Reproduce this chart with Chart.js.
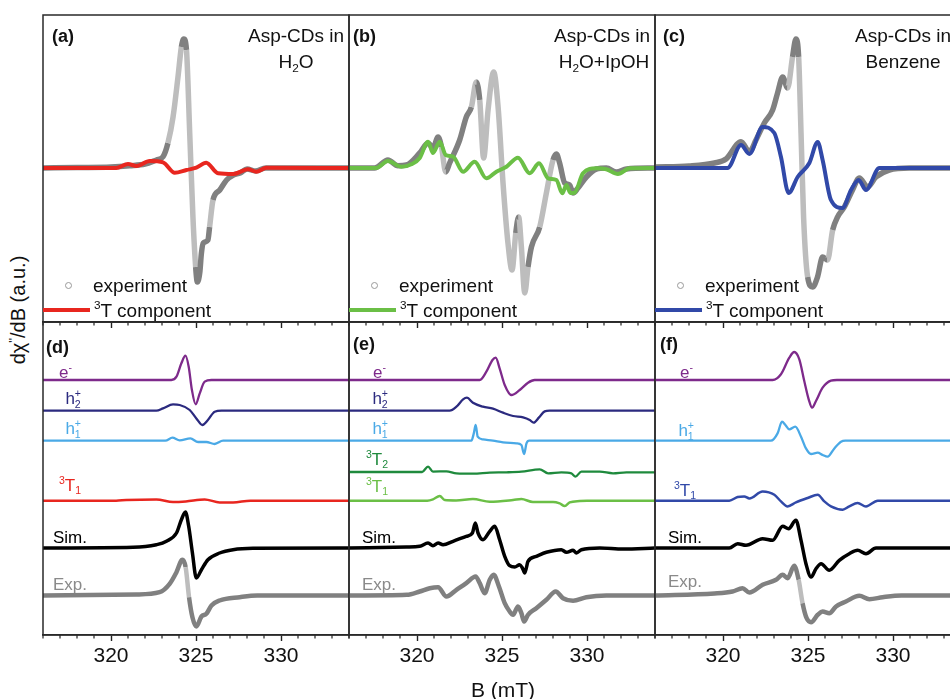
<!DOCTYPE html>
<html><head><meta charset="utf-8">
<script src="https://cdn.jsdelivr.net/npm/chart.js@4.4.1/dist/chart.umd.min.js"></script>
<style>
html,body{margin:0;padding:0;background:#fff;overflow:hidden;}
#fig{position:relative;width:950px;height:699px;overflow:hidden;background:#fff;font-family:"Liberation Sans",Arial,Helvetica,sans-serif;color:#111;}
canvas{position:absolute;}
.t{position:absolute;white-space:nowrap;line-height:1;z-index:5;}
.t sup{font-size:0.62em;vertical-align:0.6em;line-height:0;}
.t sub{font-size:0.62em;vertical-align:-0.35em;line-height:0;}
.ss{display:inline-block;vertical-align:-0.42em;font-size:0.62em;line-height:1.05;text-align:left;}
.ss span{display:block;}
.sw{position:absolute;z-index:5;}
</style></head><body><div id="fig"></div>
<script>
// ---------- data (B in mT, signal in a.u.) ----------
const xTicks = [320, 325, 330];

// (a) Asp-CDs in H2O
const aExp = [[316,0],[318,0.5],[320,1],[321.1,2.3],[322,4],[322.67,8],[323.06,11.3],[323.35,25],[323.65,51],[323.94,91],[324.14,121],[324.28,129],[324.44,118],[324.63,35],[324.82,-49],[324.98,-99],[325.08,-114],[325.22,-105],[325.32,-85],[325.43,-75],[325.7,-72],[325.8,-59],[326.0,-32],[326.4,-22],[326.8,-12],[327.2,-7],[327.6,-5],[328.0,-1],[328.5,-3],[329.1,0],[330,0],[334,0]];
const aT = [[316,0],[320.3,0],[321.0,4],[321.5,2],[322.28,7],[323.06,5.7],[323.75,-4.7],[324.44,-2],[325.02,0.3],[325.6,5.3],[326.3,-5.3],[327.2,-6],[328.06,-1.3],[328.55,-3.7],[329.14,0.3],[334,0]];

// (b) Asp-CDs in H2O+IpOH
const bExp = [[316,0],[317.5,0],[318.29,8],[318.88,2.3],[319.38,3],[320.16,15],[320.65,25],[320.94,20],[321.24,31],[321.44,21],[321.69,-4],[321.92,5],[322.51,28],[322.9,51],[323.2,61],[323.49,86],[323.69,68],[323.92,10],[324.18,58],[324.51,96],[324.77,61],[325.06,-15],[325.35,-75],[325.59,-102],[325.81,-65],[325.98,-49],[326.14,-79],[326.34,-125],[326.53,-99],[326.73,-79],[327.22,-59],[327.61,-25],[328.0,8],[328.2,14],[328.39,5],[328.69,-15],[328.98,-17],[329.18,-25],[329.47,-20],[329.96,-9],[330.55,-1],[331.14,0],[331.73,-4],[332.32,-1],[334,0]];
const bT = [[316,0],[317.6,0],[318.29,7],[319.08,1.3],[319.67,3.7],[320.16,10],[320.65,26.3],[320.94,15],[321.34,26.3],[321.69,13],[322.12,11.3],[322.71,-3.7],[323.39,6.3],[324.08,-10.3],[324.67,-3.7],[325.26,1.3],[325.94,10.3],[326.63,-5.3],[327.18,4.7],[327.71,-10.3],[328.2,-12],[328.55,-25.3],[328.79,-17],[329.02,-25],[329.27,-24.7],[329.76,-5.3],[330.55,-0.3],[331.14,-1.3],[331.82,-6],[332.51,-0.3],[334,0]];

// (c) Asp-CDs in Benzene
const cExp = [[316,1],[318,2],[319.5,5],[320.18,9],[321.06,26.3],[321.55,16.3],[321.94,28],[322.43,45],[322.92,58],[323.21,75],[323.51,91],[323.8,80],[324.09,111],[324.29,129],[324.45,111],[324.59,35],[324.74,-49],[324.98,-109],[325.27,-119],[325.56,-109],[325.86,-89],[326.15,-92],[326.45,-62],[326.74,-49],[327.14,-39],[327.62,-22],[328.02,-10],[328.51,-19],[329.0,-9],[329.78,-2],[330.96,0],[334,0]];
const cT = [[316,0],[320.27,0],[321.06,23],[321.55,14],[322.33,41],[323.02,35],[323.41,11],[323.86,-25],[324.39,-9],[325.08,5],[325.57,26],[325.86,8],[326.35,-32],[327.03,-40],[327.53,-22],[327.98,-12],[328.41,-22],[329.2,0],[334,0]];

// (d) simulation components, H2O
const dE = [[316,0],[323.55,0],[323.85,3.3],[324.14,16.7],[324.38,24.3],[324.57,13.3],[324.76,-10],[324.98,-24.3],[325.22,-13.3],[325.51,-1.7],[325.91,0],[334,0]];
const dH2 = [[316,0],[322.67,0],[323.06,2.3],[323.65,6.3],[324.04,5.7],[324.63,0.7],[325.02,-7.7],[325.38,-14.3],[325.7,-9.3],[326.1,-1],[326.5,0],[334,0]];
const dH1 = [[316,0],[323.2,0],[323.61,3],[324.04,0.3],[324.67,2.3],[325.12,-1.3],[325.61,-1.3],[326.1,-3.3],[326.59,0],[334,0]];
const dT1 = [[316,0],[320.3,0],[320.9,0.7],[322.67,1.3],[323.65,-1.3],[324.4,-0.7],[325.51,1.3],[326.39,-1.7],[327.18,-1.7],[328.2,0],[334,0]];
const dSim = [[316,0],[321.3,0.7],[322.67,3.3],[323.26,6.7],[323.85,15],[324.14,28.3],[324.38,36],[324.57,21.7],[324.79,-5],[325.02,-30],[325.32,-21.7],[325.7,-11.7],[326.39,-5],[327.18,-1.7],[328.35,-0.3],[334,0]];
const dExp = [[316,0],[321.5,1],[322.86,3.3],[323.45,11.7],[323.85,23.3],[324.2,35.7],[324.39,28.3],[324.59,-1.7],[324.79,-21.7],[325.02,-31],[325.32,-21],[325.61,-18.3],[325.91,-10],[326.39,-5],[327.57,-1.7],[328.6,0],[334,0]];

// (e) simulation components, H2O+IpOH
const eE = [[316,0],[323.69,0],[324.08,8.3],[324.44,20],[324.63,22.3],[324.86,11.7],[325.16,-5],[325.55,-15],[326.04,-10],[326.53,-2.7],[326.92,0],[334,0]];
const eH2 = [[316,0],[321.92,0],[322.32,4],[322.71,11.3],[322.94,13],[323.29,8],[323.88,4],[324.47,2],[325.06,-2],[325.65,-5.3],[326.24,-6.7],[326.63,-9.3],[326.86,-12],[327.18,-6.7],[327.51,-0.7],[327.8,0],[334,0]];
const eH1 = [[316,0],[323.2,0],[323.34,7.3],[323.45,15.7],[323.57,4],[323.88,1.3],[324.47,0],[325.06,-1.7],[325.85,-2.7],[326.14,-4.3],[326.3,-13.3],[326.44,-2.7],[326.6,0],[334,0]];
const eT2 = [[316,0.3],[320.3,0.3],[320.65,5.7],[320.94,0.7],[321.73,1],[322.32,-1],[323.29,-1.3],[324.28,-0.3],[325.26,0],[326.14,0.7],[327.22,3],[327.71,-1],[328.49,0],[329.08,-1],[329.32,-4.3],[329.67,0.7],[330.75,0.7],[331.53,-1],[332.32,0],[334,0]];
const eT1 = [[316,0],[320.6,0],[320.94,1.3],[321.34,4.7],[321.63,0.7],[322.3,0.3],[323.29,1.7],[324.28,-1],[325.65,0.7],[326.14,1.7],[326.82,-1.3],[328.0,-1.3],[328.39,-2.7],[328.69,-5.3],[328.98,-1.7],[329.57,-0.3],[330,0],[334,0]];
const eSim = [[316,0],[319.38,1],[320.16,1.7],[320.65,5],[320.94,2.3],[321.24,5],[321.53,3.3],[322.12,6.7],[322.9,11.7],[323.26,15],[323.43,25],[323.59,15],[323.88,8.3],[324.28,16.7],[324.57,21.7],[324.86,8.3],[325.16,-8.3],[325.45,-17.7],[325.75,-19],[326.04,-16.7],[326.2,-20],[326.34,-25],[326.53,-13.3],[327.02,-8.3],[327.61,-4.3],[328.49,-1.7],[328.79,-4.3],[329.18,-2.3],[329.38,-5],[329.67,-1.7],[330.75,0],[332.12,-1],[334,0]];
const eExp = [[316,0],[319.4,0.7],[320.16,4],[320.75,7.3],[321.24,8.3],[321.73,-1],[322.32,5.7],[322.9,12.3],[323.45,19],[323.69,12.3],[323.98,2.3],[324.28,15.7],[324.51,20.7],[324.82,9],[325.16,-7.7],[325.45,-16],[325.65,-19.3],[325.94,-11],[326.14,-17.7],[326.3,-26],[326.53,-19.3],[327.02,-12.7],[327.61,-4.3],[328.16,4],[328.59,-2.7],[329.18,-5.3],[329.96,-1.7],[331.14,0],[334,0]];

// (f) simulation components, Benzene
const fE = [[316,0],[322.92,0],[323.41,5.7],[323.9,22.3],[324.19,28],[324.49,20.7],[324.78,-1],[325.04,-19.3],[325.24,-27.7],[325.47,-21],[325.86,-7.7],[326.35,-0.7],[326.7,0],[334,0]];
const fH1 = [[316,0],[322.82,0],[323.21,7.3],[323.47,19],[323.67,15.7],[323.9,11.3],[324.25,14],[324.59,4],[324.88,-7.7],[325.18,-13.3],[325.57,-12],[325.86,-14.3],[326.15,-16],[326.55,-7.7],[326.94,-1],[327.2,0],[334,0]];
const fT1 = [[316,0],[320.37,0],[320.86,3.7],[321.25,4.3],[321.55,2.3],[322.33,9.3],[323.02,6],[323.41,-0.7],[323.8,-5.7],[324.29,-1.7],[324.98,2.7],[325.57,6],[325.96,-0.7],[326.35,-5.7],[327.04,-9],[327.43,-5.7],[327.92,-2.3],[328.41,-5.7],[329.1,0],[334,0]];
const fSim = [[316,0],[320.37,0],[320.86,4.3],[321.35,2.7],[322.33,9.3],[322.92,7.7],[323.51,21.7],[323.86,19.3],[324.29,27.7],[324.59,7.7],[324.88,-15.7],[325.18,-29],[325.47,-20.7],[325.77,-15.7],[326.25,-22.3],[326.84,-12.3],[327.43,-5.7],[327.92,-2.3],[328.41,-5.7],[329.0,0],[334,0]];
const fExp = [[316,0],[319.5,2],[320.56,4],[321.15,7.3],[321.55,3],[322.33,10.7],[323.12,15.7],[323.51,20.7],[323.8,17.3],[324.19,29.7],[324.45,15.7],[324.68,-7.7],[324.92,-22.7],[325.18,-26.7],[325.57,-19.3],[325.86,-16],[326.25,-17.7],[326.65,-11],[327.23,-6],[328.02,-0.3],[328.61,-3.7],[329.39,-1.7],[330.5,0],[334,0]];

// ---------- layout / style ----------
const fig = document.getElementById('fig');
const PAD = 3, PLOT_W = 306;
const panelLeft = [43, 349, 655];
const topY = 15, midY = 322, botY = 635;
const OFF = {E:255, H2:224.3, H1:194.3, T2:162.7, T1:134.3, Sim:87, Exp:39.5};
const COL = {E:'#7e2a8b', H2:'#2b2a7f', H1:'#4aa9e6', red:'#e8261f', T2:'#1f8a3d', lg:'#6bbf46', blue:'#3149a8', sim:'#000000'};

const steep = c => { const dx = Math.abs(c.p1.x - c.p0.x) || 0.01, dy = Math.abs(c.p1.y - c.p0.y); return dy > 22 && dy / dx > 4; };
function xy(arr, off){ return arr.map(p => ({x: p[0], y: p[1] + (off || 0)})); }
function line(arr, color, width, off){
  return {data: xy(arr, off), borderColor: color, borderWidth: width, pointRadius: 0, fill: false, cubicInterpolationMode: 'monotone'};
}
function expLine(arr, off, w){
  const d = line(arr, '#808080', w, off);
  d.segment = {borderColor: c => steep(c) ? '#bdbdbd' : '#808080'};
  return d;
}

const minorTicks = {id:'minorTicks', afterDraw(chart){
  const s = chart.scales.x, ctx = chart.ctx; ctx.save(); ctx.strokeStyle = '#222'; ctx.lineWidth = 1.2;
  for (let v = Math.ceil(s.min); v <= s.max; v++) { if (v % 5 === 0) continue; const x = s.getPixelForValue(v);
    ctx.beginPath(); ctx.moveTo(x, s.top); ctx.lineTo(x, s.top + 3.5); ctx.stroke(); }
  ctx.restore(); }};
const frame = {id:'frame', afterDraw(chart){
  const a = chart.chartArea, ctx = chart.ctx; ctx.save(); ctx.strokeStyle = '#2a2a2a'; ctx.lineWidth = 1.5;
  ctx.strokeRect(a.left, a.top, a.right - a.left, a.bottom - a.top); ctx.restore(); }};

function makePanel(col, row, datasets, yMin, yMax){
  const isBottom = row === 1;
  const plotTop = isBottom ? midY : topY;
  const plotH = isBottom ? botY - midY : midY - topY;
  const axisH = isBottom ? 40 : 8;
  const c = document.createElement('canvas');
  const w = PLOT_W + 2 * PAD, h = PAD + plotH + axisH;
  c.width = w; c.height = h;
  c.style.left = (panelLeft[col] - PAD) + 'px'; c.style.top = (plotTop - PAD) + 'px';
  c.style.width = w + 'px'; c.style.height = h + 'px';
  fig.appendChild(c);
  new Chart(c, {type: 'line', data: {datasets},
    options: {responsive: false, animation: false, events: [], devicePixelRatio: 1,
      layout: {padding: {left: PAD, right: PAD, top: PAD, bottom: 0}},
      plugins: {legend: {display: false}, tooltip: {enabled: false}},
      scales: {
        x: {type: 'linear', min: 316, max: 334,
          afterBuildTicks: s => { s.ticks = xTicks.map(v => ({value: v})); },
          afterFit: s => { s.height = axisH; },
          grid: {drawOnChartArea: false, drawTicks: true, tickLength: 6, tickWidth: 1.4, tickColor: '#222'},
          border: {display: true, color: '#2a2a2a', width: 1.5},
          ticks: {display: isBottom, padding: 3, color: '#111', maxRotation: 0, autoSkip: false,
            font: {size: 21, family: '"Liberation Sans", Arial, sans-serif'}}},
        y: {display: false, min: yMin, max: yMax}
      }},
    plugins: [minorTicks, frame]});
}

// top row
makePanel(0, 0, [line(aT, COL.red, 4), expLine(aExp, 0, 5.5)], -154, 153);
makePanel(1, 0, [line(bT, COL.lg, 4), expLine(bExp, 0, 5.5)], -154, 153);
makePanel(2, 0, [line(cT, COL.blue, 4), expLine(cExp, 0, 5.5)], -154, 153);
// bottom row
makePanel(0, 1, [line(dE, COL.E, 2.3, OFF.E), line(dH2, COL.H2, 2.3, OFF.H2), line(dH1, COL.H1, 2.3, OFF.H1),
  line(dT1, COL.red, 2.5, OFF.T1), line(dSim, COL.sim, 3.5, OFF.Sim), expLine(dExp, OFF.Exp, 4.5)], 0, 313);
makePanel(1, 1, [line(eE, COL.E, 2.3, OFF.E), line(eH2, COL.H2, 2.3, OFF.H2), line(eH1, COL.H1, 2.3, OFF.H1),
  line(eT2, COL.T2, 2.3, OFF.T2), line(eT1, COL.lg, 2.5, OFF.T1), line(eSim, COL.sim, 3.5, OFF.Sim), expLine(eExp, OFF.Exp, 4.5)], 0, 313);
makePanel(2, 1, [line(fE, COL.E, 2.3, OFF.E), line(fH1, COL.H1, 2.3, OFF.H1),
  line(fT1, COL.blue, 2.5, OFF.T1), line(fSim, COL.sim, 3.5, OFF.Sim), expLine(fExp, OFF.Exp, 4.5)], 0, 313);

// ---------- text ----------
function txt(html, x, y, o){
  o = o || {};
  const d = document.createElement('div'); d.className = 't'; d.innerHTML = html;
  d.style.left = x + 'px'; d.style.top = y + 'px';
  d.style.fontSize = (o.size || 17) + 'px';
  if (o.bold) d.style.fontWeight = 'bold';
  if (o.color) d.style.color = o.color;
  const ax = o.align === 'right' ? '-100%' : (o.align === 'center' ? '-50%' : '0');
  d.style.transform = o.rot ? 'translate(-50%,-50%) rotate(' + o.rot + 'deg)' : 'translate(' + ax + ',-50%)';
  fig.appendChild(d);
}
function sw(css){ const d = document.createElement('div'); d.className = 'sw'; d.style.cssText += css; fig.appendChild(d); }

// panel letters
txt('(a)', 52, 36, {bold: true, size: 18});
txt('(b)', 353, 36, {bold: true, size: 18});
txt('(c)', 663, 36, {bold: true, size: 18});
txt('(d)', 46, 347, {bold: true, size: 18});
txt('(e)', 353, 344, {bold: true, size: 18});
txt('(f)', 660, 344, {bold: true, size: 18});

// sample titles
txt('Asp-CDs in', 296, 35, {align: 'center', size: 19});
txt('H<sub>2</sub>O', 296, 61, {align: 'center', size: 19});
txt('Asp-CDs in', 602, 35, {align: 'center', size: 19});
txt('H<sub>2</sub>O+IpOH', 604, 61, {align: 'center', size: 19});
txt('Asp-CDs in', 903, 35, {align: 'center', size: 19});
txt('Benzene', 903, 61, {align: 'center', size: 19});

// legends in top row
const legCols = [COL.red, COL.lg, COL.blue];
[43, 349, 655].forEach((L, i) => {
  sw('left:' + (L + 22) + 'px;top:282px;width:5px;height:5px;border:1px solid #999;border-radius:50%;');
  txt('experiment', L + 50, 285, {size: 19});
  sw('left:' + L + 'px;top:308px;width:47px;height:4px;background:' + legCols[i] + ';');
  txt('<sup>3</sup>T component', L + 51, 310, {size: 19});
});

// component labels
const h2 = 'h<span class="ss"><span>+</span><span>2</span></span>';
const h1 = 'h<span class="ss"><span>+</span><span>1</span></span>';
txt('e<sup>-</sup>', 72, 372, {align: 'right', color: COL.E});
txt(h2, 81, 399, {align: 'right', color: COL.H2});
txt(h1, 81, 429, {align: 'right', color: COL.H1});
txt('<sup>3</sup>T<sub>1</sub>', 81, 485, {align: 'right', color: COL.red});
txt('Sim.', 53, 537, {color: '#000'});
txt('Exp.', 53, 584, {color: '#8a8a8a'});

txt('e<sup>-</sup>', 386, 372, {align: 'right', color: COL.E});
txt(h2, 388, 399, {align: 'right', color: COL.H2});
txt(h1, 388, 429, {align: 'right', color: COL.H1});
txt('<sup>3</sup>T<sub>2</sub>', 388, 459, {align: 'right', color: COL.T2});
txt('<sup>3</sup>T<sub>1</sub>', 388, 486, {align: 'right', color: COL.lg});
txt('Sim.', 362, 537, {color: '#000'});
txt('Exp.', 362, 584, {color: '#8a8a8a'});

txt('e<sup>-</sup>', 693, 372, {align: 'right', color: COL.E});
txt(h1, 694, 431, {align: 'right', color: COL.H1});
txt('<sup>3</sup>T<sub>1</sub>', 696, 490, {align: 'right', color: COL.blue});
txt('Sim.', 668, 537, {color: '#000'});
txt('Exp.', 668, 581, {color: '#8a8a8a'});

// axis titles
txt('B (mT)', 503, 689, {align: 'center', size: 21});
txt('d&chi;<sup>\'\'</sup>/dB (a.u.)', 18, 310, {size: 20, rot: -90});
</script></body></html>
